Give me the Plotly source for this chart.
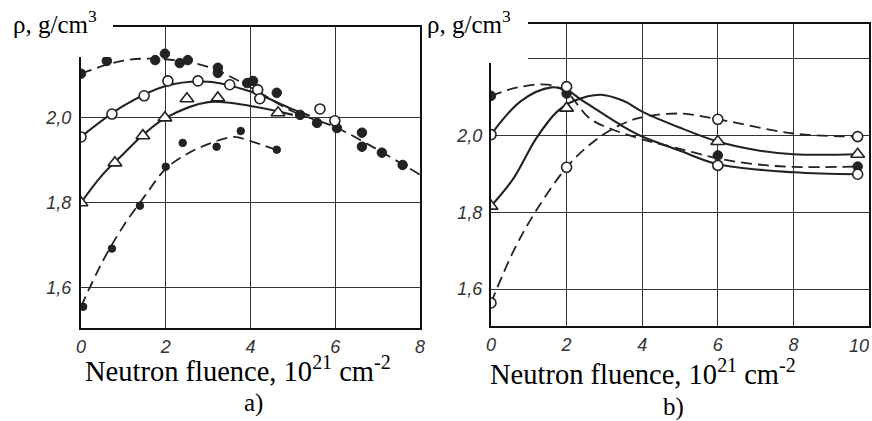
import plotly.graph_objects as go
from plotly.subplots import make_subplots

# ---- panel a) measured points ----
a_dots_x = [0, 0.61, 1.75, 1.98, 2.33, 2.52, 3.23, 3.23, 3.92, 4.06, 4.62, 5.17, 5.57, 6.04, 6.63, 6.63, 7.1, 7.59]
a_dots_y = [2.104, 2.134, 2.136, 2.151, 2.129, 2.136, 2.118, 2.106, 2.082, 2.087, 2.059, 2.007, 1.988, 1.976, 1.965, 1.932, 1.918, 1.889]
a_circ_x = [0, 0.73, 1.49, 2.05, 2.76, 3.51, 4.17, 4.22, 5.64, 5.99]
a_circ_y = [1.955, 2.009, 2.052, 2.087, 2.087, 2.078, 2.066, 2.045, 2.021, 1.993]
a_tri_x = [0, 0.8, 1.46, 1.98, 2.5, 3.23, 4.65]
a_tri_y = [1.80, 1.894, 1.958, 2.0, 2.045, 2.047, 2.012]
a_small_x = [0.05, 0.73, 1.39, 2.0, 2.4, 3.2, 3.77, 4.62]
a_small_y = [1.555, 1.692, 1.793, 1.885, 1.941, 1.932, 1.969, 1.925]

# ---- panel a) fitted curves (read off the picture) ----
a_c1_x = [0, 1, 2, 3, 4, 5, 6, 7, 8]
a_c1_y = [2.104, 2.135, 2.138, 2.12, 2.072, 2.015, 1.978, 1.925, 1.866]
a_c2_x = [0, 1, 2, 3, 4, 5, 5.4]
a_c2_y = [1.955, 2.028, 2.075, 2.085, 2.062, 2.02, 2.005]
a_c3_x = [0, 0.5, 1, 1.5, 2, 3, 4, 5]
a_c3_y = [1.80, 1.865, 1.915, 1.963, 2.0, 2.037, 2.028, 2.007]
a_c4_x = [0, 0.5, 1, 1.5, 2, 2.5, 3, 3.6, 4, 4.6]
a_c4_y = [1.555, 1.66, 1.745, 1.815, 1.88, 1.915, 1.938, 1.955, 1.945, 1.925]

# ---- panel b) measured points ----
b_x = [0, 2, 6, 9.7]
b_dots_y = [2.103, 2.109, 1.948, 1.919]
b_circ_y = [2.002, 2.127, 1.922, 1.899]
b_tri_y = [1.816, 2.071, 1.984, 1.951]
b_circ2_y = [1.564, 1.917, 2.042, 1.997]

# ---- panel b) fitted curves ----
b_c1_x = [0, 0.7, 1.5, 2, 2.6, 3.2, 4, 5, 6, 7, 8, 9.7]
b_c1_y = [2.103, 2.125, 2.132, 2.112, 2.045, 2.016, 1.99, 1.965, 1.94, 1.925, 1.918, 1.919]
b_c2_x = [0, 0.8, 1.6, 2, 2.4, 3.5, 4, 5, 6, 8, 9.7]
b_c2_y = [2.002, 2.09, 2.125, 2.118, 2.092, 2.023, 1.997, 1.96, 1.925, 1.904, 1.899]
b_c3_x = [0, 0.6, 1.2, 1.75, 2.2, 2.9, 3.5, 4, 5, 6, 7, 8, 9.7]
b_c3_y = [1.816, 1.889, 1.993, 2.062, 2.09, 2.106, 2.09, 2.062, 2.02, 1.984, 1.962, 1.951, 1.951]
b_c4_x = [0, 0.6, 1.2, 2, 2.6, 3.2, 3.9, 5, 6, 8, 9.7]
b_c4_y = [1.564, 1.70, 1.805, 1.917, 1.975, 2.016, 2.045, 2.057, 2.042, 2.005, 1.997]

a_xticks = [0, 2, 4, 6, 8]
b_xticks = [0, 2, 4, 6, 8, 10]
a_yticks = [1.6, 1.8, 2.0]
b_yticks = [1.6, 1.8, 2.0, 2.2]
b_ylabels = ["1,6", "1,8", "2,0", ""]   # the 2,2 label sits under the pasted title

W, H = 872, 421
INK = "#222222"
SERIF = "Liberation Serif, Times New Roman, serif"


def px_x(p):
    return p / W


def px_y(p):
    return 1 - p / H


fig = make_subplots(rows=1, cols=2)


def curve(x, y, dashed, col):
    fig.add_trace(go.Scatter(x=x, y=y, mode="lines", line_shape="spline",
                             line=dict(color=INK, width=1.8 if dashed else 2.1,
                                       dash="11px,6px" if dashed else "solid")),
                  row=1, col=col)


def points(x, y, kind, col):
    if kind == "dot":
        m = dict(symbol="circle", size=9.5, color=INK, line=dict(color=INK, width=1))
    elif kind == "small":
        m = dict(symbol="circle", size=7.5, color=INK, line=dict(color=INK, width=1))
    elif kind == "circ":
        m = dict(symbol="circle", size=10, color="white", line=dict(color=INK, width=1.6))
    else:
        m = dict(symbol="triangle-up", size=12, color="white", line=dict(color=INK, width=1.6))
    fig.add_trace(go.Scatter(x=x, y=y, mode="markers", marker=m), row=1, col=col)


curve(a_c1_x, a_c1_y, True, 1)
curve(a_c2_x, a_c2_y, False, 1)
curve(a_c3_x, a_c3_y, False, 1)
curve(a_c4_x, a_c4_y, True, 1)
points(a_dots_x, a_dots_y, "dot", 1)
points(a_circ_x, a_circ_y, "circ", 1)
points(a_tri_x, a_tri_y, "tri", 1)
points(a_small_x, a_small_y, "small", 1)

curve(b_c1_x, b_c1_y, True, 2)
curve(b_c2_x, b_c2_y, False, 2)
curve(b_c3_x, b_c3_y, False, 2)
curve(b_c4_x, b_c4_y, True, 2)
points(b_x, b_dots_y, "dot", 2)
points(b_x, b_circ_y, "circ", 2)
points(b_x, b_tri_y, "tri", 2)
points(b_x, b_circ2_y, "circ", 2)

tickfont = dict(family="Liberation Sans", size=18, color="#333333", style="italic")
axis_common = dict(showgrid=True, gridcolor="#333333", gridwidth=1, zeroline=False,
                   showline=True, linecolor="#111111", linewidth=2, mirror=True,
                   automargin=False, ticks="outside", tickcolor="rgba(0,0,0,0)",
                   tickfont=tickfont, ticklabeloverflow="allow")

fig.update_xaxes(axis_common, row=1, col=1, range=[0, 8], tickvals=a_xticks,
                 ticklen=1, domain=[px_x(81), px_x(420)])
# last label of b) is right-aligned to the page edge, drawn separately below
fig.update_xaxes(axis_common, row=1, col=2, range=[0, 10], tickvals=b_xticks,
                 ticktext=[str(v) for v in b_xticks[:-1]] + [""],
                 ticklen=1, domain=[px_x(491), px_x(869)])
fig.update_yaxes(axis_common, row=1, col=1, range=[1.505, 2.214], tickvals=a_yticks,
                 ticktext=[f"{v:.1f}".replace(".", ",") for v in a_yticks],
                 ticklen=4, domain=[px_y(328), px_y(27)])
fig.update_yaxes(axis_common, row=1, col=2, range=[1.504, 2.29], tickvals=b_yticks,
                 ticktext=b_ylabels, ticklen=3, domain=[px_y(326), px_y(24)])

fig.add_annotation(text=str(b_xticks[-1]), x=b_xticks[-1], xref="x2", y=px_y(346), yref="paper",
                   xanchor="right", yanchor="middle", xshift=2, showarrow=False, font=tickfont)

# white patches the labels were pasted on
fig.add_shape(type="rect", xref="paper", yref="paper", x0=0, x1=px_x(113),
              y0=px_y(57), y1=1, fillcolor="white", line_width=0, layer="above")
fig.add_shape(type="rect", xref="paper", yref="paper", x0=px_x(426), x1=px_x(528),
              y0=px_y(63), y1=1, fillcolor="white", line_width=0, layer="above")

rho_font = dict(family=SERIF, size=25, color="black")
xlab_font = dict(family=SERIF, size=28.5, color="black")
xlab = "Neutron fluence, 10<sup>21</sup> cm<sup>-2</sup>"
fig.add_annotation(text="ρ, g/cm<sup>3</sup>", x=px_x(11), y=px_y(22), xref="paper", yref="paper",
                   xanchor="left", yanchor="middle", showarrow=False, font=rho_font)
fig.add_annotation(text="ρ, g/cm<sup>3</sup>", x=px_x(425), y=px_y(22), xref="paper", yref="paper",
                   xanchor="left", yanchor="middle", showarrow=False, font=rho_font)
fig.add_annotation(text=xlab, x=px_x(238), y=px_y(369), xref="paper", yref="paper",
                   xanchor="center", yanchor="middle", showarrow=False, font=xlab_font)
fig.add_annotation(text="a)", x=px_x(253), y=px_y(403), xref="paper", yref="paper",
                   xanchor="center", yanchor="middle", showarrow=False, font=rho_font)
fig.add_annotation(text=xlab, x=px_x(643), y=px_y(372), xref="paper", yref="paper",
                   xanchor="center", yanchor="middle", showarrow=False, font=xlab_font)
fig.add_annotation(text="b)", x=px_x(673), y=px_y(407), xref="paper", yref="paper",
                   xanchor="center", yanchor="middle", showarrow=False, font=rho_font)

fig.update_layout(width=W, height=H, margin=dict(l=0, r=0, t=0, b=0),
                  paper_bgcolor="white", plot_bgcolor="white", showlegend=False)

# drop the browser's default 8px body margin so the figure sits at the page corner
fig.write_html("out.html", config={"displayModeBar": False},
               post_script="document.body.style.margin='0';")
